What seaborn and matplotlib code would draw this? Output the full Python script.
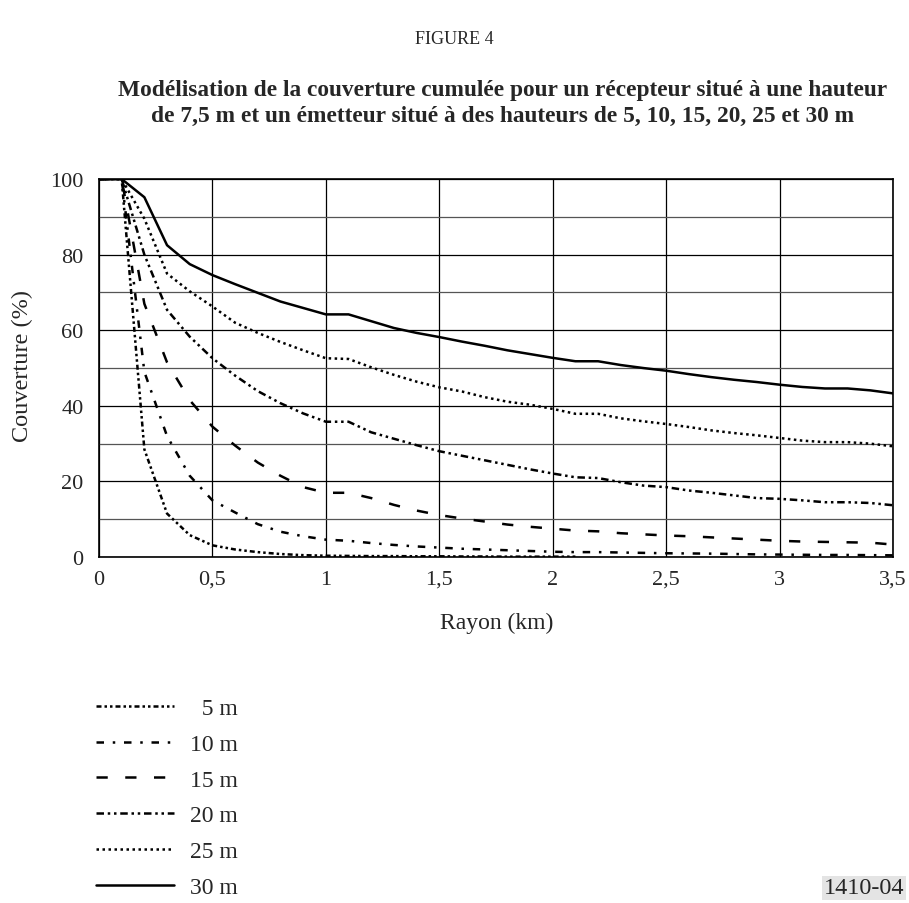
import numpy as np
import pandas as pd
import matplotlib
matplotlib.use('Agg')
from matplotlib import pyplot as plt
import seaborn as sns

# rayon (km), one point every 100 m
rayon = [0.0, 0.1, 0.2, 0.3, 0.4, 0.5, 0.6, 0.7, 0.8, 0.9,
         1.0, 1.1, 1.2, 1.3, 1.4, 1.5, 1.6, 1.7, 1.8, 1.9,
         2.0, 2.1, 2.2, 2.3, 2.4, 2.5, 2.6, 2.7, 2.8, 2.9,
         3.0, 3.1, 3.2, 3.3, 3.4, 3.5]

nan = np.nan
cov_5m = [100, 100, 28.5, 11.5, 5.8, 3.1, 2.0, 1.3, 0.8, 0.5,
          0.35, 0.3, 0.25, 0.25, 0.2, 0.2, 0.15, 0.15, 0.1, 0.1,
          0.1, 0.1, nan, nan, nan, nan, nan, nan, nan, nan,
          nan, nan, nan, nan, nan, nan]
cov_10m = [100, 100, 49.0, 32.0, 21.5, 15.0, 11.8, 8.7, 6.7, 5.5,
           4.6, 4.3, 3.7, 3.2, 2.8, 2.5, 2.2, 2.0, 1.8, 1.6,
           1.4, 1.3, 1.3, 1.2, 1.1, 1.0, 0.95, 0.9, 0.8, 0.7,
           0.65, 0.6, 0.55, 0.55, 0.5, 0.45]
cov_15m = [100, 100, 67.0, 51.5, 41.5, 34.5, 29.5, 25.0, 21.5, 18.5,
           17.0, 17.0, 15.6, 13.8, 12.3, 11.1, 10.2, 9.4, 8.6, 8.0,
           7.5, 7.0, 6.8, 6.3, 6.0, 5.7, 5.5, 5.2, 4.9, 4.6,
           4.3, 4.1, 4.0, 3.9, 3.8, 3.3]
cov_20m = [100, 100, 80.0, 65.4, 58.3, 52.6, 48.0, 43.9, 40.7, 38.0,
           35.8, 35.8, 33.0, 31.3, 29.6, 28.0, 26.8, 25.6, 24.4, 23.2,
           22.1, 21.1, 20.9, 19.8, 18.9, 18.5, 17.6, 17.0, 16.3, 15.6,
           15.4, 15.0, 14.5, 14.5, 14.3, 13.7]
cov_25m = [100, 100, 89.5, 75.0, 70.3, 66.3, 62.0, 59.3, 56.9, 54.7,
           52.6, 52.4, 50.2, 48.2, 46.4, 44.9, 43.8, 42.3, 41.1, 40.3,
           39.2, 37.9, 37.9, 36.7, 35.9, 35.2, 34.4, 33.5, 32.8, 32.2,
           31.5, 30.8, 30.4, 30.4, 30.0, 29.3]
cov_30m = [100, 100, 95.2, 82.5, 77.5, 74.6, 72.2, 69.9, 67.6, 65.9,
           64.2, 64.2, 62.4, 60.6, 59.3, 58.2, 57.0, 55.9, 54.7, 53.7,
           52.7, 51.8, 51.8, 50.8, 50.0, 49.3, 48.4, 47.6, 46.9, 46.3,
           45.6, 45.0, 44.6, 44.6, 44.1, 43.3]

labels = ['  5 m', '10 m', '15 m', '20 m', '25 m', '30 m']
x_ticks = [0, 0.5, 1, 1.5, 2, 2.5, 3, 3.5]
x_ticklabels = ['0', '0,5', '1', '1,5', '2', '2,5', '3', '3,5']
y_ticks = [0, 20, 40, 60, 80, 100]

sns.set_style('white')
plt.rcParams['font.family'] = ['Liberation Serif', 'DejaVu Serif']

series = [cov_5m, cov_10m, cov_15m, cov_20m, cov_25m, cov_30m]
styles = [(0, (2, 1.2, 1, 1.2, 1, 1.2)),
          (0, (3, 3.5, 1, 3.5)),
          (0, (4.5, 7)),
          (0, (3, 1.5, 1, 1.5, 1, 1.5)),
          (0, (1, 1.4)),
          '-']

fig = plt.figure(figsize=(9.09, 9.04), dpi=100)
ax = fig.add_axes([0.1089, 0.3827, 0.8735, 0.4181])

for vals, lab, ls in zip(series, labels, styles):
    sns.lineplot(x=rayon, y=vals, ax=ax, color='black', linewidth=1.8,
                 linestyle=ls, label=lab)

ax.set_xlim(0, 3.5)
ax.set_ylim(0, 100)
ax.set_xticks(x_ticks)
ax.set_xticklabels(x_ticklabels)
ax.set_yticks(y_ticks)
ax.set_yticks([10, 30, 50, 70, 90], minor=True)
ax.tick_params(axis='both', which='both', length=0, labelsize=16)
ax.tick_params(axis='x', pad=9)
ax.tick_params(axis='y', pad=11)
ax.grid(True, which='both', color='black', linewidth=0.9)
ax.grid(True, which='minor', axis='y', color='#555555', linewidth=0.9)
ax.set_axisbelow(True)
for s in ax.spines.values():
    s.set_color('black')
    s.set_linewidth(1.2)
ax.set_xlabel('')
ax.set_ylabel('')

handles, labs = ax.get_legend_handles_labels()
ax.get_legend().remove()
fig.legend(handles, labs, loc='upper left', bbox_to_anchor=(0.106, 0.227),
           frameon=False, fontsize=17, handlelength=3.3, handletextpad=0.65,
           labelspacing=0.6, borderpad=0, borderaxespad=0)

fig.text(0.5, 0.956, 'FIGURE 4', ha='center', va='center', fontsize=13)
fig.text(0.553, 0.8855,
         'Modélisation de la couverture cumulée pour un récepteur situé à une hauteur\n'
         'de 7,5 m et un émetteur situé à des hauteurs de 5, 10, 15, 20, 25 et 30 m',
         ha='center', va='center', fontsize=16.8, fontweight='bold', linespacing=1.33)
fig.text(0.025, 0.595, 'Couverture (%)', ha='center', va='center',
         rotation=90, fontsize=17.5)
fig.text(0.546, 0.31, 'Rayon (km)', ha='center', va='center', fontsize=17)
fig.text(0.995, 0.017, '1410-04', ha='right', va='center', fontsize=17.5,
         bbox=dict(facecolor='#e4e4e4', edgecolor='none', pad=1))

fig.savefig('out.png', dpi=100)
